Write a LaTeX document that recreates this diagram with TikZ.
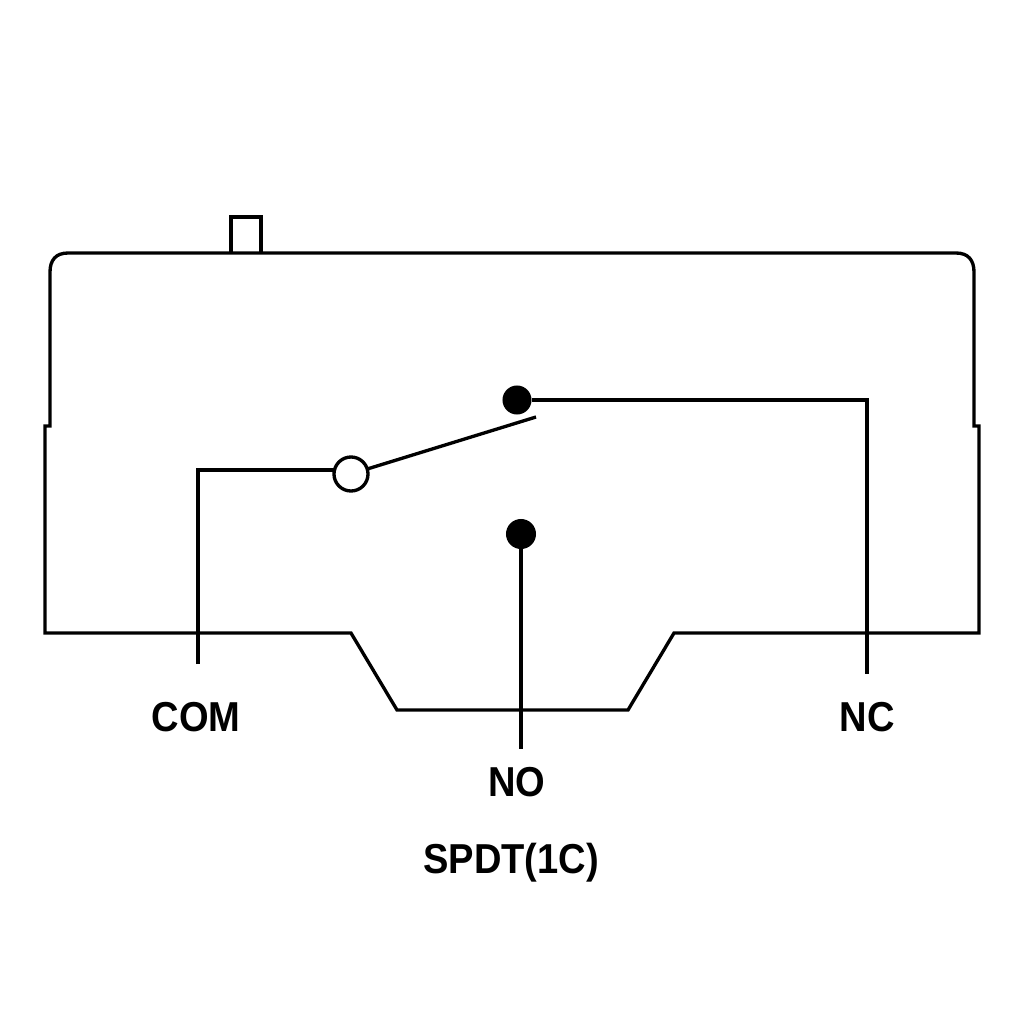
\documentclass[tikz,border=0pt]{standalone}
\usepackage{fontspec}
\setmainfont[FakeStretch=.91]{Liberation Sans}
\usetikzlibrary{calc,positioning}

\begin{document}
\begin{tikzpicture}[x=.01cm,y=-.01cm,line width=.95pt]

\tikzset{contact/.style={shape=circle,fill=black,inner sep=0pt,outer sep=0pt,minimum size=2.9mm},
pivot/.style={shape=circle,fill=white,draw=black,inner sep=0pt,outer sep=0pt,minimum size=3.4mm},
pinlabel/.style={font=\fontsize{11.9pt}{14pt}\bfseries,inner sep=0pt}}

\useasboundingbox (0,0) rectangle (1024,1024);

% Case outline
\draw (45,633) -- (45,426) -- (50,426) -- (50,272) .. controls (50,260) and (56,253) .. (68,253) -- (956,253) .. controls (968,253) and (974,260) .. (974,272) -- (974,426) -- (979,426) -- (979,633) -- (674,633) -- (628,710) -- (397,710) -- (351,633) -- cycle;

% Plunger
\draw (231,253) -- (231,217) -- (261,217) -- (261,253);

% Contact nodes
\node (com) [pivot] at (351,474) {};
\node (nc) [contact] at (517,400) {};
\node (no) [contact,minimum size=3mm] at (521,534) {};

% Wire ends
\coordinate (comEnd) at (198,664);
\coordinate (comBend) at (198,470);
\coordinate (ncBend) at (867,400);
\coordinate (ncEnd) at (867,674);
\coordinate (noEnd) at (521,749);
\coordinate (armEnd) at (536,417);

% Edges
\draw (comEnd) -- (comBend) -- (com.west |- comBend);
\draw (nc) -- (ncBend) -- (ncEnd);
\draw (no) -- (noEnd);
\draw (com) -- (armEnd);

% Labels
\node (comLabel) [pinlabel] at (196,717) {COM};
\node (ncLabel) [pinlabel] at (867,717) {NC};
\node (noLabel) [pinlabel] at (517,782) {NO};
\node (typeLabel) [pinlabel] at (511,863) {SPDT(1C)};

\end{tikzpicture}
\end{document}
